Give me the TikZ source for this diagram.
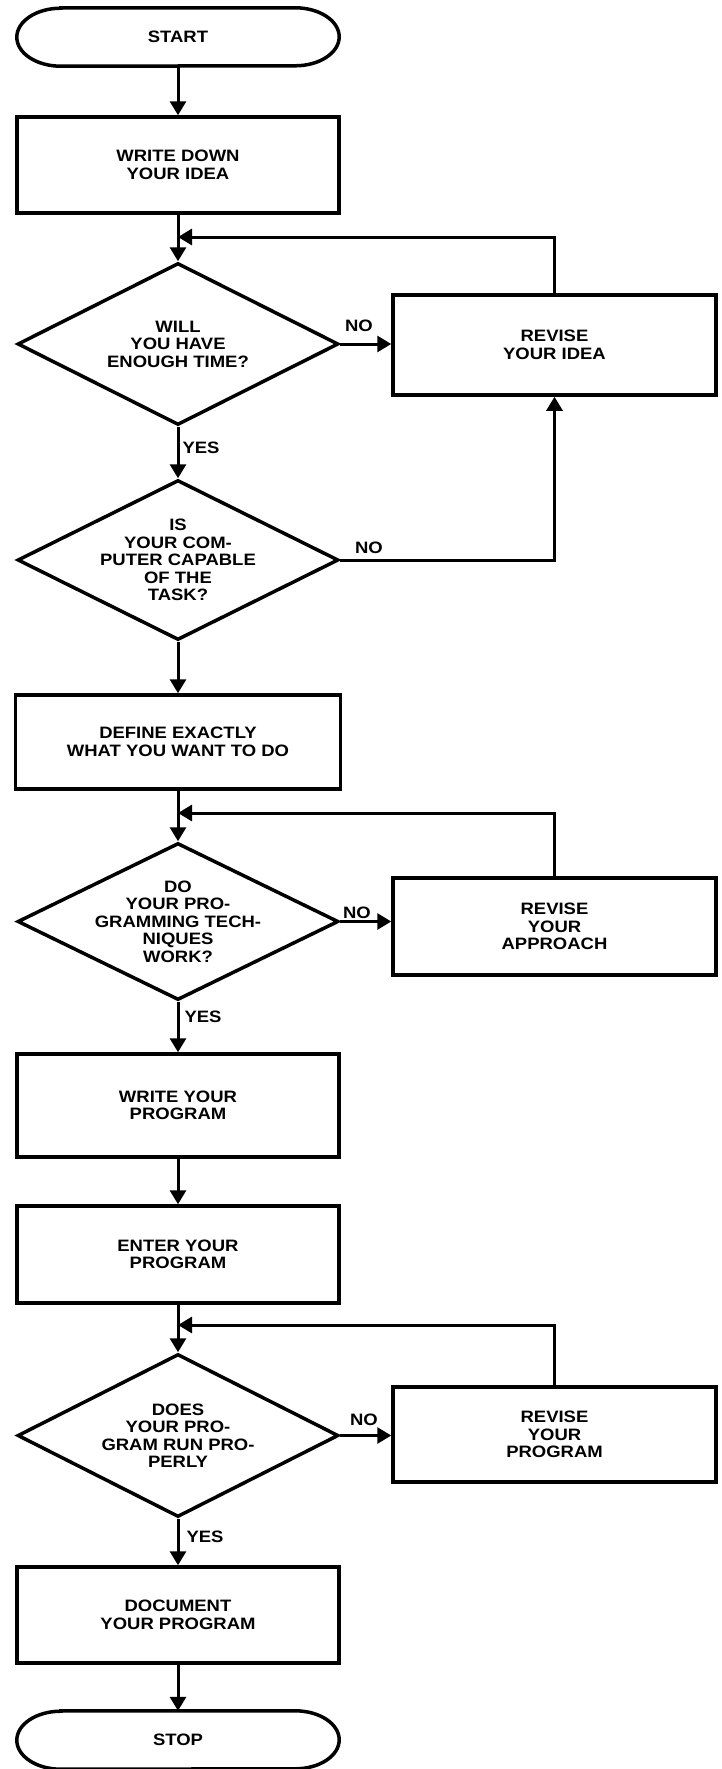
\documentclass[tikz,border=0pt]{standalone}
\usepackage{fontspec}
\setmainfont{Liberation Sans}[FakeStretch=1.12]
\usetikzlibrary{arrows.meta,shapes.geometric}
\begin{document}
\begin{tikzpicture}[x=1pt,y=1pt,
  font=\fontsize{16.5}{17.5}\selectfont\bfseries,
  box/.style={draw, line width=3.5pt, minimum width=322pt, minimum height=96pt, align=center, inner sep=0pt},
  rbox/.style={box, minimum width=323pt},
  dia/.style={draw, diamond, line width=3.5pt, minimum width=321pt, minimum height=160pt, inner sep=0pt},
  term/.style={minimum width=322pt, minimum height=58pt, inner sep=0pt},
  txt/.style={align=center, inner sep=0pt},
  lab/.style={inner sep=0pt},
  conn/.style={line width=3pt, -{Triangle[length=14pt,width=16pt]}},
  oval/.style={line width=3.5pt}
]
\useasboundingbox (0,0) rectangle (721,-1769);
\fill[white] (0,0) rectangle (721,-1769);

% main column
\node[term] (start) at (178,-37) {START};
\draw[oval] ([xshift=44pt]start.north west) -- ([xshift=-44pt]start.north east)
  arc[start angle=90,end angle=-90,x radius=44pt,y radius=29pt]
  -- ([xshift=44pt]start.south west)
  arc[start angle=270,end angle=90,x radius=44pt,y radius=29pt] -- cycle;

\node[box, minimum height=96pt] (b1) at (178,-165) {WRITE DOWN\\YOUR IDEA};
\node[dia, minimum height=162pt] (d1) at (178,-344) {};
\node[txt] (d1t) at (d1.center) {WILL\\YOU HAVE\\ENOUGH TIME?};
\node[dia, minimum height=160pt] (d2) at (178,-560) {};
\node[txt] (d2t) at (d2.center) {IS\\YOUR COM-\\PUTER CAPABLE\\OF THE\\TASK?};
\node[box, minimum width=325pt, minimum height=94pt] (b3) at (178,-742) {DEFINE EXACTLY\\WHAT YOU WANT TO DO};
\node[dia, minimum height=157pt] (d3) at (178,-921.5) {};
\node[txt] (d3t) at (d3.center) {DO\\YOUR PRO-\\GRAMMING TECH-\\NIQUES\\WORK?};
\node[box, minimum height=103pt] (b4) at (178,-1105.5) {WRITE YOUR\\PROGRAM};
\node[box, minimum height=97pt] (b5) at (178,-1254.5) {ENTER YOUR\\PROGRAM};
\node[dia, minimum height=163pt] (d4) at (178,-1435.5) {};
\node[txt] (d4t) at (d4.center) {DOES\\YOUR PRO-\\GRAM RUN PRO-\\PERLY};
\node[box, minimum height=96pt] (b6) at (178,-1615) {DOCUMENT\\YOUR PROGRAM};
\node[term] (stop) at (178,-1740) {STOP};
\draw[oval] ([xshift=44pt]stop.north west) -- ([xshift=-44pt]stop.north east)
  arc[start angle=90,end angle=-90,x radius=44pt,y radius=29pt]
  -- ([xshift=44pt]stop.south west)
  arc[start angle=270,end angle=90,x radius=44pt,y radius=29pt] -- cycle;

% right column
\node[rbox, minimum height=100pt] (r1) at (554.5,-345) {REVISE\\YOUR IDEA};
\node[rbox, minimum height=97pt] (r2) at (554.5,-926.5) {REVISE\\YOUR\\APPROACH};
\node[rbox, minimum height=95pt] (r3) at (554.5,-1434.5) {REVISE\\YOUR\\PROGRAM};

% merge points
\coordinate (m1) at (178,-237);
\coordinate (m2) at (178,-813);
\coordinate (m3) at (178,-1325);

% connectors
\draw[conn] (start.south) -- (b1.north);
\draw[conn] (b1.south) -- (d1.north);
\draw[conn] (r1.north) |- (m1);
\draw[conn] (d1.east) -- (d1.east -| r1.west);
\draw[conn] (d1.south) -- (d2.north);
\draw[conn] (d2.east) -| (r1.south);
\draw[conn] (d2.south) -- (b3.north);
\draw[conn] (b3.south) -- (d3.north);
\draw[conn] (r2.north) |- (m2);
\draw[conn] (d3.east) -- (d3.east -| r2.west);
\draw[conn] (d3.south) -- (b4.north);
\draw[conn] (b4.south) -- (b5.north);
\draw[conn] (b5.south) -- (d4.north);
\draw[conn] (r3.north) |- (m3);
\draw[conn] (d4.east) -- (d4.east -| r3.west);
\draw[conn] (d4.south) -- (b6.north);
\draw[conn] (b6.south) -- (stop.north);

% labels
\node[lab] (no1) at (359,-326) {NO};
\node[lab] (yes1) at (201,-448) {YES};
\node[lab] (no2) at (369,-548) {NO};
\node[lab] (no3) at (357,-913) {NO};
\node[lab] (yes3) at (203,-1017) {YES};
\node[lab] (no4) at (364,-1420) {NO};
\node[lab] (yes4) at (205,-1537) {YES};
\end{tikzpicture}
\end{document}
